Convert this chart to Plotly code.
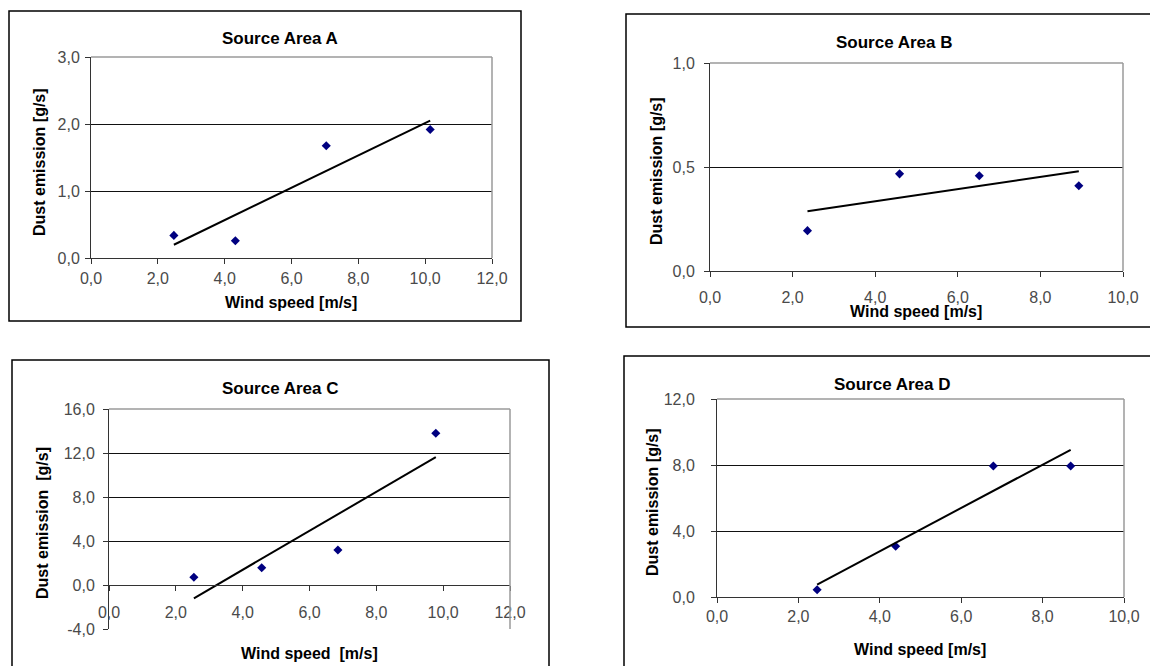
import numpy as np
import plotly.graph_objects as go

# ---- data ----
a_speed = [2.48, 4.32, 7.04, 10.15]
a_dust = [0.337, 0.258, 1.676, 1.919]
b_speed = [2.36, 4.59, 6.52, 8.93]
b_dust = [0.194, 0.467, 0.458, 0.410]
c_speed = [2.54, 4.57, 6.85, 9.78]
c_dust = [0.70, 1.57, 3.18, 13.79]
d_speed = [2.46, 4.39, 6.79, 8.69]
d_dust = [0.44, 3.08, 7.94, 7.94]

titles = ["Source Area A", "Source Area B", "Source Area C", "Source Area D"]
x_titles = ["Wind speed [m/s]", "Wind speed [m/s]", "Wind speed  [m/s]", "Wind speed [m/s]"]
y_titles = ["Dust emission [g/s]", "Dust emission [g/s]", "Dust emission  [g/s]", "Dust emission [g/s]"]
x_ranges = [[0, 12], [0, 10], [0, 12], [0, 10]]
y_ranges = [[0, 3], [0, 1], [-4, 16], [0, 12]]
y_ticks = [[0, 1, 2, 3], [0, 0.5, 1], [-4, 0, 4, 8, 12, 16], [0, 4, 8, 12]]

W, H = 1150, 666
FONT = "Liberation Sans, Arial, sans-serif"

def px(x):
    return x / W

def py(y):
    return 1 - y / H

def fmt(v):
    return ("%.1f" % v).replace(".", ",")

# plot-area pixel boxes (left, top, right, bottom)
boxes = [(91, 57, 492, 258), (710, 63, 1123, 271), (109, 409, 510, 629), (717, 399, 1124, 597)]
frames = [(9, 11, 521, 321), (626, 14, 1165, 327), (12, 360, 549, 690), (624, 356, 1165, 690)]
title_pos = [(280, 39), (895, 42), (280, 388), (892, 384)]
xt_pos = [(291, 302), (916, 311), (309, 653), (920, 649)]
yt_pos = [(40, 162), (656, 171), (42, 523), (652, 502)]
x_standoff = [1, 7, 8, 0]
y_standoff = [2, 6, 5, 13]

data = [(a_speed, a_dust), (b_speed, b_dust), (c_speed, c_dust), (d_speed, d_dust)]

fig = go.Figure()
shapes = []
annotations = []
layout = {}

for i in range(4):
    n = "" if i == 0 else str(i + 1)
    xs, ys = data[i]
    fig.add_trace(go.Scatter(x=xs, y=ys, mode="markers",
                             marker=dict(symbol="diamond", size=7, color="#000080"),
                             xaxis="x" + n, yaxis="y" + n, showlegend=False))
    k, b = np.polyfit(xs, ys, 1)
    tx = [min(xs), max(xs)]
    ty = [k * v + b for v in tx]
    fig.add_trace(go.Scatter(x=tx, y=ty, mode="lines",
                             line=dict(color="black", width=2),
                             xaxis="x" + n, yaxis="y" + n, showlegend=False))
    l, t, r, bt = boxes[i]
    xd = [px(l), px(r)]
    yd = [py(bt), py(t)]
    xa = dict(domain=xd, range=x_ranges[i], dtick=2, tick0=0, tickformat=".1f",
              showgrid=False, zeroline=False, showline=True, linecolor="#333333",
              linewidth=1, ticks="outside", ticklen=5, tickcolor="#333333",
              tickfont=dict(family=FONT, size=16, color="#4a4a4a"),
              ticklabelstandoff=x_standoff[i], fixedrange=True, automargin=False)
    ya = dict(domain=yd, range=y_ranges[i], tickmode="array", tickvals=y_ticks[i],
              ticktext=[fmt(v) for v in y_ticks[i]],
              showgrid=True, gridcolor="#111111", gridwidth=1, zeroline=False,
              showline=True, linecolor="#333333", linewidth=1, ticks="outside",
              ticklen=5, tickcolor="#333333",
              tickfont=dict(family=FONT, size=16, color="#4a4a4a"),
              ticklabelstandoff=y_standoff[i], fixedrange=True, automargin=False)
    if i == 2:
        # x axis crosses at y = 0
        y0, y1 = y_ranges[i]
        frac = (0 - y0) / (y1 - y0)
        xa.update(anchor="free", position=yd[0] + frac * (yd[1] - yd[0]))
        ya.update(anchor="x" + n)
    else:
        xa.update(anchor="y" + n)
        ya.update(anchor="x" + n)
    layout["xaxis" + n] = xa
    layout["yaxis" + n] = ya

    # gray top/right border of plot area
    shapes.append(dict(type="line", xref="paper", yref="paper", x0=px(l), x1=px(r),
                       y0=py(t), y1=py(t), line=dict(color="#9a9a9a", width=1.5), layer="above"))
    shapes.append(dict(type="line", xref="paper", yref="paper", x0=px(r), x1=px(r),
                       y0=py(t), y1=py(bt), line=dict(color="#9a9a9a", width=1.5), layer="above"))
    # chart frame
    fl, ft, fr, fb = frames[i]
    shapes.append(dict(type="rect", xref="paper", yref="paper", x0=px(fl), x1=px(fr),
                       y0=py(fb), y1=py(ft), line=dict(color="black", width=1.5), layer="below"))

    annotations.append(dict(text="<b>%s</b>" % titles[i], x=px(title_pos[i][0]), y=py(title_pos[i][1]),
                            xref="paper", yref="paper", showarrow=False,
                            xanchor="center", yanchor="middle",
                            font=dict(family=FONT, size=17, color="black")))
    annotations.append(dict(text="<b>%s</b>" % x_titles[i], x=px(xt_pos[i][0]), y=py(xt_pos[i][1]),
                            xref="paper", yref="paper", showarrow=False,
                            xanchor="center", yanchor="middle",
                            font=dict(family=FONT, size=16, color="black")))
    annotations.append(dict(text="<b>%s</b>" % y_titles[i], x=px(yt_pos[i][0]), y=py(yt_pos[i][1]),
                            xref="paper", yref="paper", showarrow=False, textangle=-90,
                            xanchor="center", yanchor="middle",
                            font=dict(family=FONT, size=16, color="black")))

fig.update_layout(width=W, height=H, autosize=False,
                  margin=dict(l=0, r=0, t=0, b=0, pad=0, autoexpand=False),
                  paper_bgcolor="white", plot_bgcolor="white",
                  separators=",.", shapes=shapes, annotations=annotations,
                  showlegend=False, **layout)

fig.write_html("out.html", config={"displayModeBar": False},
               post_script="document.body.style.margin='0px';document.body.style.overflow='hidden';")
